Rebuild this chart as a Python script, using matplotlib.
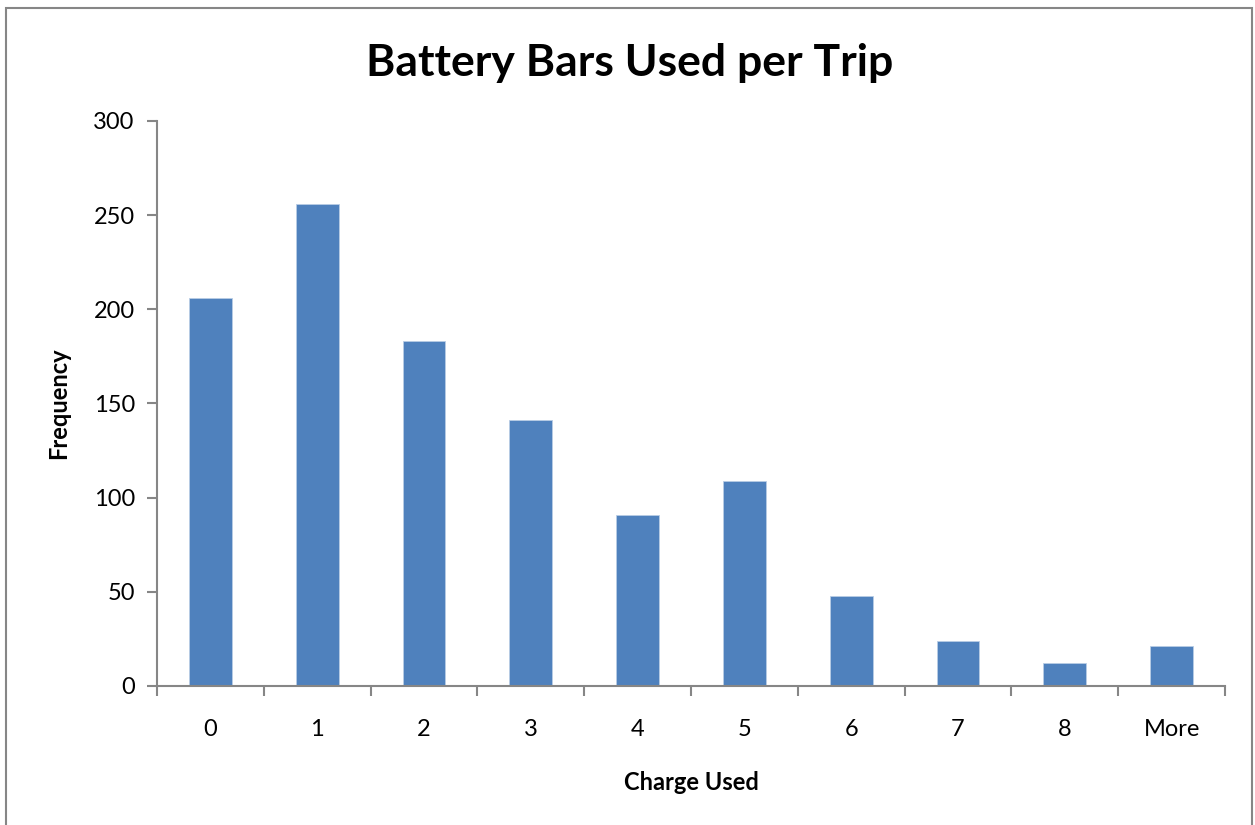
import matplotlib.pyplot as plt
import matplotlib.patches as mpatches
import numpy as np

categories = ['0', '1', '2', '3', '4', '5', '6', '7', '8', 'More']
frequency = [206, 256, 183, 141, 91, 109, 48, 24, 12, 21]

plt.rcParams['font.family'] = ['Lato', 'DejaVu Sans']

fig = plt.figure(figsize=(12.55, 8.25), dpi=100)
ax = fig.add_axes([157 / 1255, 1 - 686 / 825, (1225 - 157) / 1255, (686 - 121) / 825])

x = np.arange(len(categories))
ax.bar(x, frequency, width=0.4, color='#4F81BD', edgecolor='#B9CDE5', linewidth=0.6)

ax.set_xlim(-0.5, len(categories) - 0.5)
ax.set_ylim(0, 300)
ax.set_yticks(range(0, 301, 50))
ax.set_xticks(x)
ax.set_xticklabels(categories)
# ticks between the categories, like excel does
ax.set_xticks(np.arange(-0.5, len(categories), 1), minor=True)
ax.tick_params(axis='x', which='major', length=0, pad=24, labelsize=17)
ax.tick_params(axis='x', which='minor', length=7, width=1.5, color='#868686', direction='out')
ax.tick_params(axis='y', length=7, width=1.5, color='#868686', direction='out', pad=9, labelsize=17)

for s in ['top', 'right']:
    ax.spines[s].set_visible(False)
for s in ['left', 'bottom']:
    ax.spines[s].set_color('#868686')
    ax.spines[s].set_linewidth(1.5)

ax.set_xlabel('Charge Used', fontsize=17, fontweight='bold', labelpad=22)
ax.set_ylabel('Frequency', fontsize=17, fontweight='bold', labelpad=17)
fig.text(630 / 1255, 1 - 63 / 825, 'Battery Bars Used per Trip', ha='center', va='center',
         fontsize=32, fontweight='bold')

# outer chart border (bottom edge is cropped off in the original)
border = mpatches.Rectangle((6 / 1255, -0.05), (1252 - 6) / 1255, 1.05 - 8 / 825,
                            transform=fig.transFigure, fill=False, edgecolor='#868686',
                            linewidth=1.5)
fig.patches.append(border)

fig.savefig('out.png', dpi=100)
